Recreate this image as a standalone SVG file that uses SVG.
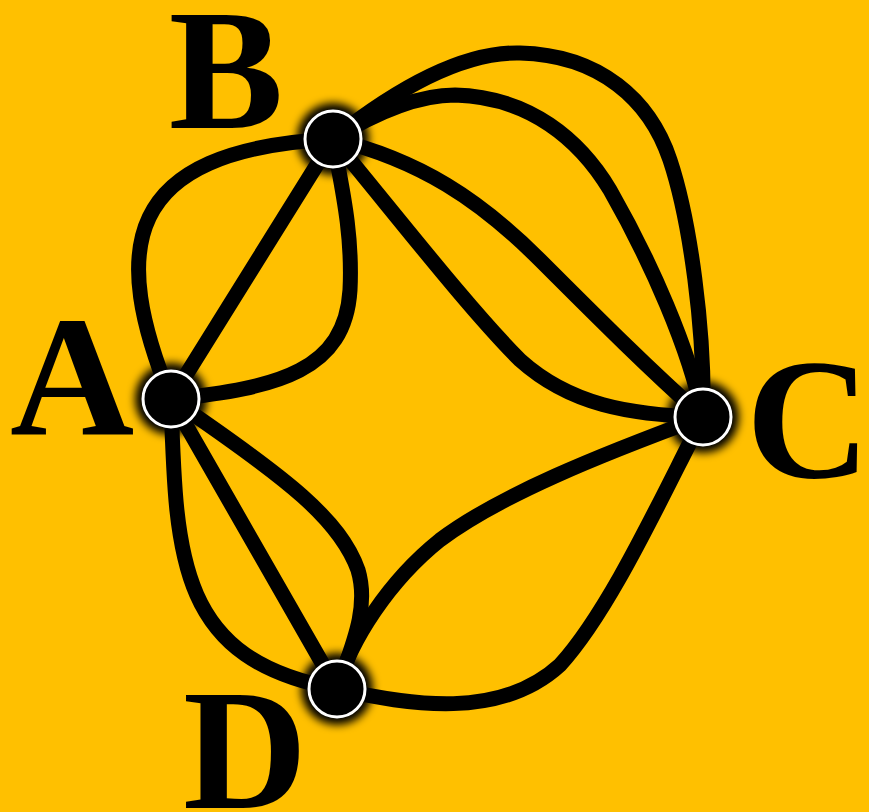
<svg xmlns="http://www.w3.org/2000/svg" width="869" height="812" viewBox="0 0 869 812">
<defs>
<style>
.e{fill:none;stroke:#000;stroke-width:15;stroke-linecap:round}
.glow{fill:#000;filter:url(#blur)}
.n{fill:#000;stroke:#fff;stroke-width:3}
.lbl{font-family:"Liberation Serif","Times New Roman",serif;font-weight:bold;font-size:172px;fill:#000;text-anchor:middle}
</style>
<filter id="blur" x="-50%" y="-50%" width="200%" height="200%"><feGaussianBlur stdDeviation="4"/></filter>
</defs>
<rect width="869" height="812" fill="#FFC000"/>
<g id="connectors">
<path class="e" d="M171,399 L333,139"/>
<path class="e" d="M171,399 C110,250 120,150 333,139"/>
<path class="e" d="M171,399 C280,388 345,370 350,290 C353,230 340,180 333,139"/>
<path class="e" d="M171,399 L337,689"/>
<path class="e" d="M171,399 C176,560 178,660 337,689"/>
<path class="e" d="M171,399 C290,480 340,520 358,570 C370,610 350,650 337,689"/>
<path class="e" d="M333,139 C420,70 480,52 520,53 C600,55 650,100 670,160 C690,220 705,330 703,417"/>
<path class="e" d="M333,139 C380,110 420,95 455,95 C530,97 580,140 610,190 C650,260 690,350 703,417"/>
<path class="e" d="M333,139 C420,160 480,200 540,260 C600,320 650,370 703,417"/>
<path class="e" d="M333,139 C400,220 470,310 520,360 C570,405 630,415 703,417"/>
<path class="e" d="M703,417 C600,455 500,495 440,540 C390,580 350,640 337,689"/>
<path class="e" d="M703,417 C660,500 610,610 560,665 C500,720 410,705 337,689"/>
</g>
<g id="node-A"><circle class="glow" cx="171" cy="399" r="36"/><circle class="n" cx="171" cy="399" r="28"/><text class="lbl" x="72" y="435">A</text></g>
<g id="node-B"><circle class="glow" cx="333" cy="139" r="36"/><circle class="n" cx="333" cy="139" r="28"/><text class="lbl" x="226" y="128">B</text></g>
<g id="node-C"><circle class="glow" cx="703" cy="417" r="36"/><circle class="n" cx="703" cy="417" r="28"/><text class="lbl" x="808" y="477">C</text></g>
<g id="node-D"><circle class="glow" cx="337" cy="689" r="36"/><circle class="n" cx="337" cy="689" r="28"/><text class="lbl" x="245" y="808">D</text></g>
</svg>
